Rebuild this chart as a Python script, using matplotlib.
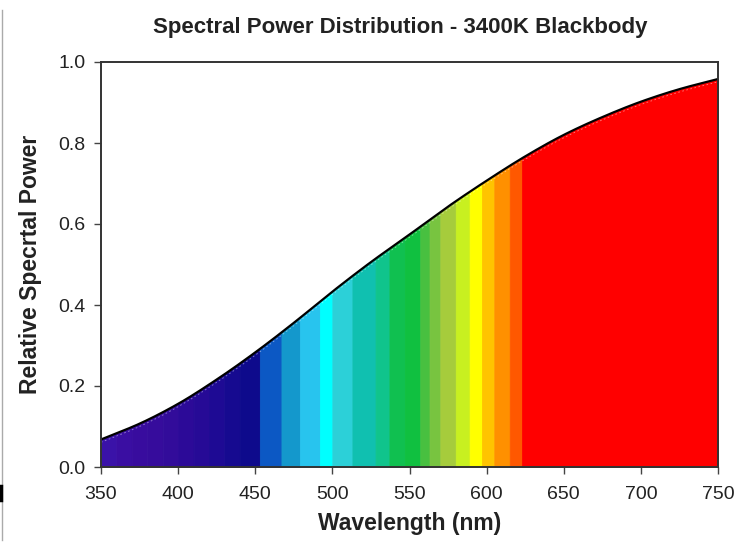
import numpy as np
import matplotlib
matplotlib.use("Agg")
import matplotlib.pyplot as plt
from matplotlib.lines import Line2D

plt.rcParams['font.family'] = ['Liberation Sans', 'DejaVu Sans']

# Data
wavelength = [350, 375, 400, 425, 450, 475, 500, 525, 550, 575,
              600, 625, 650, 675, 700, 725, 750]
power = [0.068, 0.107, 0.156, 0.216, 0.283, 0.356, 0.433, 0.506, 0.574, 0.643,
         0.707, 0.767, 0.820, 0.864, 0.902, 0.933, 0.958]

# Spectral colour bands (start wavelength, colour)
band_starts = [350, 360, 370, 380, 390, 400, 410, 420, 430, 440,
               453, 467, 479, 492, 500, 513, 528, 537, 547, 557,
               563, 570, 580, 589, 597, 605, 615, 623]
band_colors = ['#3a12a8', '#3a0ea2', '#380c9e', '#360c9c', '#320c9a', '#2c0a98',
               '#260a96', '#1e0a94', '#160a90', '#0e0a8c',
               '#0c58c4', '#1498cc', '#28c4ee', '#00ffff', '#2cd0d8', '#10c0b0',
               '#10c48c', '#10c050', '#10c040', '#48c040', '#78c440', '#a6cc3c',
               '#c8f020', '#ffff00', '#ffc400', '#ff9000', '#ff5800', '#ff0000']
band_end = 750

fig = plt.figure(figsize=(7.51, 5.45), dpi=100)
ax = fig.add_axes([101/751, 1-467/545, 617/751, 405/545])

# smooth monotone cubic curve through the read points (Fritsch-Carlson)
xf = np.linspace(wavelength[0], wavelength[-1], 1601)
wl = np.array(wavelength, float)
pw = np.array(power, float)
h = np.diff(wl)
d = np.diff(pw) / h
m = np.zeros_like(pw)
m[0], m[-1] = d[0], d[-1]
for k in range(1, len(pw) - 1):
    if d[k-1] * d[k] > 0:
        w1 = 2*h[k] + h[k-1]
        w2 = h[k] + 2*h[k-1]
        m[k] = (w1 + w2) / (w1/d[k-1] + w2/d[k])
idx = np.clip(np.searchsorted(wl, xf) - 1, 0, len(wl) - 2)
t = (xf - wl[idx]) / h[idx]
h00 = 2*t**3 - 3*t**2 + 1
h10 = t**3 - 2*t**2 + t
h01 = -2*t**3 + 3*t**2
h11 = t**3 - t**2
yf = h00*pw[idx] + h10*h[idx]*m[idx] + h01*pw[idx+1] + h11*h[idx]*m[idx+1]

edges = band_starts + [band_end]
for i, c in enumerate(band_colors):
    a, b = edges[i], edges[i+1]
    mk = (xf >= a) & (xf <= b)
    ax.fill_between(xf[mk], 0, yf[mk], color=c, edgecolor=c, linewidth=0.6)

ax.plot(xf, yf, color='black', lw=1.6)
ax.plot(xf, yf - 0.007, color='white', lw=0.6, ls=(0, (2, 3)), alpha=0.5)

ax.set_xlim(350, 750)
ax.set_ylim(0, 1.0)
ax.set_xticks(range(350, 751, 50))
ax.set_yticks([0.0, 0.2, 0.4, 0.6, 0.8, 1.0])
ax.set_yticklabels(['0.0', '0.2', '0.4', '0.6', '0.8', '1.0'])
ax.tick_params(direction='out', length=5, width=1, color='#444444',
               labelsize=14, labelcolor='#222222')
ax.tick_params(axis='x', pad=9)
ax.tick_params(axis='y', pad=6)
for s in ax.spines.values():
    s.set_color('#333333')
    s.set_linewidth(1.4)

ax.set_xlabel('Wavelength (nm)', fontsize=16.5, fontweight='bold', color='#222222', labelpad=6)
ax.set_ylabel('Relative Specrtal Power', fontsize=16.5, fontweight='bold', color='#222222', labelpad=12)
fig.text(400/751, 1-27/545, 'Spectral Power Distribution - 3400K Blackbody',
         ha='center', va='center', fontsize=16, fontweight='bold', color='#222222')

# thin left border of the original image
fig.add_artist(Line2D([2/751, 2/751], [1-10/545, 1-540/545], color='#aaaaaa', lw=1))
fig.add_artist(Line2D([1/751, 1/751], [1-486/545, 1-500/545], color='black', lw=2.5))

fig.savefig('out.png', dpi=100)
